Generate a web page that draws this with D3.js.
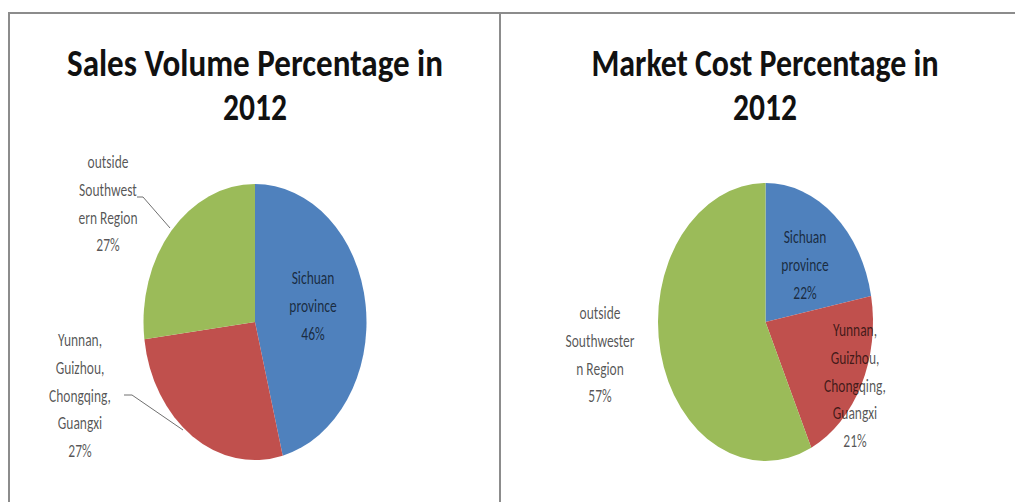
<!DOCTYPE html>
<html lang="en">
<head>
<meta charset="UTF-8">
<title>Sales Volume and Market Cost Percentage in 2012</title>
<script src="https://d3js.org/d3.v7.min.js"></script>
<style>
  body { margin: 0; background: #fff; }
  svg { display: block; }
</style>
</head>
<body>
<svg id="chart" width="1015" height="502"></svg>
<script>
// data
var categories = ["Sichuan province", "Yunnan, Guizhou, Chongqing, Guangxi", "outside Southwestern Region"];
var salesVolume = [46, 27, 27];
var marketCost = [22, 21, 57];
var colors = ["#4f81bd", "#c0504d", "#9bbb59"];

var salesTitle = ["Sales Volume Percentage in", "2012"];
var costTitle = ["Market Cost Percentage in", "2012"];

// wrapped label text, same as the picture
var salesLabels = [
  ["Sichuan", "province", "46%"],
  ["Yunnan,", "Guizhou,", "Chongqing,", "Guangxi", "27%"],
  ["outside", "Southwest", "ern Region", "27%"]
];
var costLabels = [
  ["Sichuan", "province", "22%"],
  ["Yunnan,", "Guizhou,", "Chongqing,", "Guangxi", "21%"],
  ["outside", "Southwester", "n Region", "57%"]
];

var svg = d3.select("#chart");
var FONT = "Carlito, Calibri, Lato, 'Open Sans', sans-serif";
var ky = 1.42; // the picture is stretched vertically

// panel frame lines
svg.append("path")
  .attr("d", "M9,502 V13 H1015 M500,13 V502")
  .attr("fill", "none")
  .attr("stroke", "#8c8c8c")
  .attr("stroke-width", 2);

function drawPie(opts) {
  var pie = d3.pie().sort(null).value(function(d) { return d; });
  var arc = d3.arc().innerRadius(0).outerRadius(opts.rx);

  var g = svg.append("g")
    .attr("transform", "translate(" + opts.cx + "," + opts.cy + ") scale(1," + (opts.ry / opts.rx) + ")");

  g.selectAll("path")
    .data(pie(opts.values))
    .enter().append("path")
    .attr("d", arc)
    .attr("fill", function(d, i) { return colors[i]; });

  // title, two lines, squeezed to width
  opts.title.forEach(function(t, i) {
    svg.append("text")
      .attr("transform", "translate(" + opts.titleX + "," + opts.titleY[i] + ") scale(1," + ky + ")")
      .attr("text-anchor", "middle")
      .attr("font-family", FONT)
      .attr("font-weight", "bold")
      .attr("font-size", 27)
      .attr("textLength", opts.titleW[i])
      .attr("lengthAdjust", "spacingAndGlyphs")
      .attr("fill", "#111")
      .text(t);
  });

  // data labels
  opts.labels.forEach(function(lines, k) {
    var p = opts.labelPos[k];
    lines.forEach(function(s, j) {
      svg.append("text")
        .attr("transform", "translate(" + p[0] + "," + (p[1] + j * 27.8) + ") scale(1," + ky + ")")
        .attr("text-anchor", "middle")
        .attr("font-family", FONT)
        .attr("font-size", 13.5)
        .attr("fill", "#000")
        .attr("fill-opacity", 0.68)
        .text(s);
    });
  });

  // leader lines
  (opts.leaders || []).forEach(function(pts) {
    svg.append("polyline")
      .attr("points", pts.map(function(q) { return q.join(","); }).join(" "))
      .attr("fill", "none")
      .attr("stroke", "#707070")
      .attr("stroke-width", 1);
  });
}

drawPie({
  values: salesVolume,
  cx: 255, cy: 322, rx: 111.5, ry: 138,
  title: salesTitle, titleX: 255, titleY: [76, 120], titleW: [376, 64],
  labels: salesLabels,
  labelPos: [[313, 284], [80, 346], [108, 168]],
  leaders: [
    [[124, 395], [132, 395], [183, 430]],
    [[137, 197], [143, 197], [170, 228]]
  ]
});

drawPie({
  values: marketCost,
  cx: 765.5, cy: 322, rx: 107.5, ry: 139,
  title: costTitle, titleX: 765, titleY: [76, 120], titleW: [347, 64],
  labels: costLabels,
  labelPos: [[805, 243], [855, 336], [600, 319]]
});
</script>
</body>
</html>
